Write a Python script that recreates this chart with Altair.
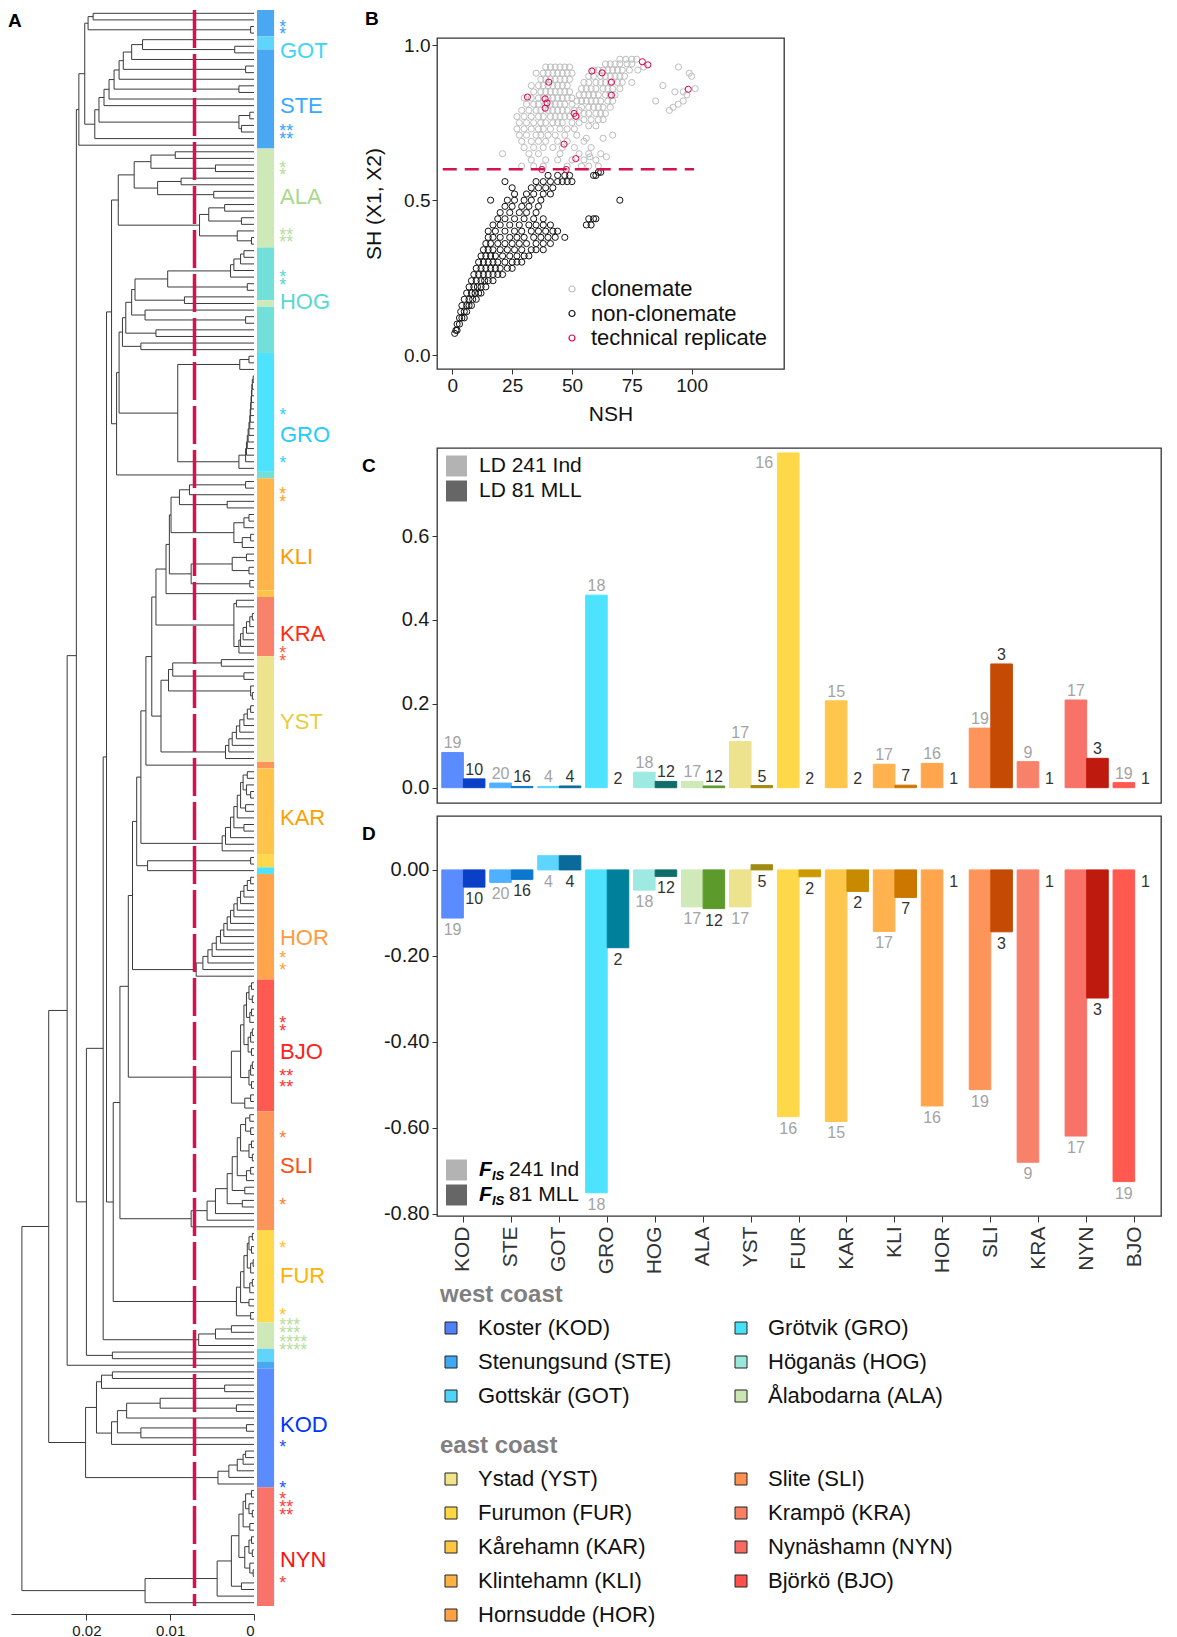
import altair as alt
import pandas as pd

FONT = "Liberation Sans"

# ============================ Panel C / D values ============================
pops = ["KOD", "STE", "GOT", "GRO", "HOG", "ALA", "YST", "FUR", "KAR", "KLI", "HOR", "SLI", "KRA", "NYN", "BJO"]
ld_ind = [0.084, 0.011, 0.003, 0.459, 0.037, 0.015, 0.110, 0.798, 0.207, 0.056, 0.058, 0.142, 0.062, 0.209, 0.012]
ld_mll = [0.021, 0.003, 0.004, None, 0.015, 0.004, 0.005, None, None, 0.006, None, 0.295, None, 0.070, None]
fis_ind = [-0.112, -0.029, 0.033, -0.751, -0.047, -0.086, -0.086, -0.574, -0.585, -0.143, -0.549, -0.511, -0.680, -0.619, -0.725]
fis_mll = [-0.040, -0.022, 0.033, -0.181, -0.015, -0.090, 0.012, -0.016, -0.050, -0.064, None, -0.144, None, -0.298, None]
n_ind = [19, 20, 4, 18, 18, 17, 17, 16, 15, 17, 16, 19, 9, 17, 19]
n_mll = [10, 16, 4, 2, 12, 12, 5, 2, 2, 7, 1, 3, 1, 3, 1]
col_light = ["#5b8cff", "#4fb0ff", "#5dd5ff", "#4de3ff", "#9ee9e1", "#cfe9b9", "#ede28d", "#ffd84a",
             "#ffc64c", "#ffb24d", "#ffa64d", "#fd955a", "#f8816a", "#f87268", "#ff5950"]
col_dark = ["#0a40c8", "#0b78d0", "#0a6a9a", "#00809a", "#0f6f68", "#5d9a2c", "#a08a12", "#cc9a00",
            "#c88a00", "#cc7700", "#cc6a00", "#c54b05", "#c0401a", "#bf1a0e", "#b01010"]
ld_legend = ["LD 241 Ind", "LD 81 MLL"]
fis_legend = ["241 Ind", "81 MLL"]
legend_grays = ["#b3b3b3", "#666666"]

west_c1 = ["Koster (KOD)", "Stenungsund (STE)", "Gottskär (GOT)"]
west_c1_col = ["#4f80f5", "#3ea9f2", "#4fd3f7"]
west_c2 = ["Grötvik (GRO)", "Höganäs (HOG)", "Ålabodarna (ALA)"]
west_c2_col = ["#45e0f8", "#98e8dc", "#cbe6b3"]
east_c1 = ["Ystad (YST)", "Furumon (FUR)", "Kårehamn (KAR)", "Klintehamn (KLI)", "Hornsudde (HOR)"]
east_c1_col = ["#f1e48a", "#ffd744", "#ffc544", "#ffb144", "#ffa144"]
east_c2 = ["Slite (SLI)", "Krampö (KRA)", "Nynäshamn (NYN)", "Björkö (BJO)"]
east_c2_col = ["#ff9150", "#f87f62", "#f86b60", "#ff5049"]

# ============================ Panel B values ============================
clone_rows = [
    (0.955, [70, 72.5, 75, 77]),
    (0.94, [64, 66, 68, 70, 73, 75]),
    (0.93, [39, 41, 43, 45, 47, 49, 80, 94.5]),
    (0.92, [59, 61, 63, 65, 67, 69, 71, 74, 77.5]),
    (0.91, [35, 38, 40, 42, 44, 46, 48, 50, 99]),
    (0.90, [57, 59, 62, 64, 66, 68, 70, 72, 100]),
    (0.89, [37, 39, 41, 43, 45, 47, 49]),
    (0.88, [55, 57, 60, 62, 64, 66, 69, 71, 75]),
    (0.87, [33, 36, 38, 40, 42, 44, 46, 48, 88]),
    (0.86, [54, 56, 58, 60, 63, 65, 67, 70, 101.5]),
    (0.85, [34, 37, 39, 41, 43, 45, 47, 49, 93, 96.5]),
    (0.84, [53, 55, 57, 59, 61, 64, 66, 68, 98]),
    (0.83, [30, 33, 36, 38, 40, 42, 44, 46, 48, 50]),
    (0.82, [52, 54, 56, 58, 60, 62, 65, 67, 85, 96.5]),
    (0.81, [31, 34, 36, 39, 41, 43, 45, 47, 50, 94.4]),
    (0.80, [54, 57, 59, 61, 63, 66, 92.3]),
    (0.79, [29, 32, 35, 37, 40, 42, 44, 46, 48, 51, 53, 90.7]),
    (0.78, [55, 57, 60, 62, 64]),
    (0.77, [27, 30, 33, 36, 38, 41, 43, 45, 47, 49, 52]),
    (0.76, [55, 58, 61, 63]),
    (0.75, [28, 31, 34, 37, 39, 42, 44, 46, 50, 53]),
    (0.74, [57, 60]),
    (0.73, [27, 30, 33, 36, 38, 41, 45, 48, 51]),
    (0.71, [28, 31, 35, 37, 40, 43, 47, 52, 67]),
    (0.70, [56, 63]),
    (0.69, [29, 33, 36, 39, 44, 48, 55]),
    (0.67, [30, 34, 38, 42, 46, 51, 58]),
    (0.65, [21, 32, 36, 45, 53, 57, 62]),
    (0.64, [57.5, 64.4]),
    (0.63, [33, 39, 44, 50, 55, 60]),
    (0.61, [29, 34, 38, 48, 54, 57, 61]),
]
nonclone_rows = [
    (0.07, [1]),
    (0.08, [1.5, 2]),
    (0.10, [2, 3]),
    (0.12, [3, 4, 5]),
    (0.14, [3.5, 5, 6]),
    (0.16, [4, 6, 7, 8]),
    (0.18, [5, 7, 8.5, 10]),
    (0.20, [6, 8, 9.5, 11, 12]),
    (0.22, [7, 9, 10.5, 12, 14]),
    (0.24, [8, 10, 12, 13.5, 15, 17]),
    (0.26, [9, 11, 13, 15, 17, 19, 21]),
    (0.28, [10, 12, 14, 16, 18, 20, 23, 25]),
    (0.30, [11, 13, 15, 17, 19, 22, 25, 27, 29]),
    (0.32, [12, 14, 16, 18, 21, 24, 27, 30, 32]),
    (0.34, [13, 15, 17, 20, 23, 26, 29, 33, 35, 38]),
    (0.36, [14, 16, 19, 22, 25, 28, 31, 35, 38, 41]),
    (0.38, [15, 17, 20, 24, 27, 30, 34, 37, 40, 43, 47]),
    (0.40, [15, 18, 22, 26, 29, 33, 36, 39, 42, 44]),
    (0.42, [17, 20, 24, 28, 32, 35, 38, 41, 56, 58]),
    (0.44, [19, 22, 26, 30, 34, 38, 57, 59, 60]),
    (0.46, [20, 24, 28, 31, 35]),
    (0.48, [22, 25, 29, 32, 36]),
    (0.50, [16, 23, 26, 30, 33, 37, 70]),
    (0.52, [26, 31, 34, 38, 41]),
    (0.54, [25, 33, 36, 39, 42]),
    (0.56, [22, 35, 38, 41, 44, 46, 48, 50]),
    (0.58, [40, 44, 47, 49, 59, 60]),
    (0.59, [61, 62]),
]
rep_x = [31.4, 40.3, 38.8, 39.6, 38.8, 50.9, 51.6, 58.3, 62.6, 66.5, 66.5, 79.4, 81.7, 98.6, 46.7, 51.6, 37.4, 47.6]
rep_y = [0.833, 0.881, 0.827, 0.814, 0.797, 0.780, 0.771, 0.917, 0.911, 0.881, 0.839, 0.947, 0.937, 0.858, 0.681, 0.634, 0.599, 0.599]
b_cats = ["clonemate", "non-clonemate", "technical replicate"]
b_cols = ["#bdbdbd", "#111111", "#e0004d"]
sh_threshold = 0.6
threshold_span = [-4, 101]

# ============================ Panel A values ============================
# dendrogram written as a Newick-like tree; merge heights in units of 0.001
def j(a, b, h):
    return f"({a},{b}){h}"


def p(x, h):
    return f"({x},{x}){h}"


def cat(base, steps):
    t = base
    for sub, h in steps:
        t = j(t, sub, h)
    return t


A1 = j(p("S", 19.2), p("S", 0.4), 19.8)
B1 = cat(j("G", "(G,S)2.3", 13.3), [("S", 14.6), (p("S", 1.0), 15.6), ("S", 16.1), (p("S", 1.8), 16.7), ("S", 17.3),
                                    ("S", 17.9), (j(p("S", 0.5), p("S", 1.5), 1.8), 18.5), ("S", 19.0)])
T1 = cat(A1, [(B1, 20.2), ("S", 20.9)])
ALA = j(j(j(p("A", 9.4), p("A", 4.6), 12.3), j(p("A", 8.7), p("A", 4.8), 11.5), 14.3),
        j(j(p("A", 3.5), p("A", 1.5), 5.4), j("A", p("A", 0.3), 2.0), 6.5), 16.2)
H1 = j(j(cat(p("H", 1.2), [("H", 1.6), ("H", 2.4), ("H", 2.8)]), p("H", 0.8), 10.3), "(H,A)8.3", 14.2)
HOG = cat(H1, [(j("H", p("H", 1.0), 13.0), 14.6), (p("H", 11.7), 15.3), (p("H", 13.5), 15.7)])
G1 = j(p("R", 0.6), "R", 1.7)
G2 = cat(p("R", 0.1), [("R", 0.2), ("R", 0.25), ("R", 0.3), ("R", 0.35), ("R", 0.4), ("R", 0.45), ("R", 0.5),
                       ("R", 0.6), ("R", 0.7), ("R", 0.8), ("R", 0.9), ("R", 1.0), ("R", 1.8)])
GRO = j(G1, G2, 9.1)
WEST = j(ALA, j(j(HOG, GRO, 16.1), "H", 16.4), 17.0)
KLI = j(j(j(j(p("L", 1.0), "L", 7.7), p("L", 3.2), 8.9),
          j(j(p("L", 0.6), "L", 1.2), j(p("L", 0.4), "L", 1.4), 2.4), 9.9),
        j(j(p("L", 0.9), p("L", 0.6), 2.6), p("L", 0.5), 7.5), 10.1)
KLIg = j(KLI, "C", 10.5)
KRA = j(p("M", 2.1), cat(p("M", 0.2), [("M", 0.5), ("M", 0.9), ("M", 1.3), ("M", 1.6), ("M", 1.8)]), 2.4)
YST = j(j(j(p("Y", 3.9), p("Y", 1.2), 9.7), j("Y", p("Y", 0.2), 0.4), 10.2),
        cat(p("Y", 0.4), [("Y", 0.8), ("Y", 1.2), ("Y", 1.7), ("Y", 2.1), ("Y", 2.6), ("Y", 3.0), ("Y", 3.4)]), 11.1)
KAR = j(cat(j(p("C", 0.8), j("C", p("C", 0.4), 0.9), 1.3),
            [(p("C", 1.0), 1.6), ("C", 2.0), (p("C", 1.2), 2.4), ("C", 2.8), ("C", 3.4)]), "C", 3.8)
FFR = j(p("F", 0.4), "R", 12.7)
HOR = cat(p("O", 0.4), [("O", 0.8), ("O", 1.2), ("O", 1.6), ("O", 2.0), ("O", 2.4), ("O", 2.8), ("O", 3.2),
                        ("O", 3.6), ("O", 4.0), ("O", 4.5), ("O", 5.0), ("O", 5.5), ("O", 6.1), ("O", 6.9)])
BJO = cat(j(j(p("B", 0.3), p("B", 0.2), 0.6), j(p("B", 0.3), "B", 0.5), 0.9),
          [(j(j(p("B", 0.2), "B", 0.4), p("B", 0.3), 0.7), 1.2),
           (j(j(p("B", 0.2), "B", 0.4), p("B", 0.3), 0.6), 1.6),
           (j(p("B", 0.4), "B", 1.1), 2.7)])
SLI = cat(j(j(p("I", 0.5), p("I", 0.4), 1.0), j(p("I", 0.3), p("I", 0.2), 0.6), 1.6),
          [(j(p("I", 0.4), "I", 0.9), 2.0), (p("I", 1.1), 2.6), (p("I", 1.4), 3.2), ("I", 4.6), ("I", 5.6), ("I", 7.5)])
FUR = j(cat(j(j(p("F", 0.2), p("F", 0.3), 0.6), j(p("F", 0.1), "F", 0.4), 0.8),
            [(j(p("F", 0.2), "F", 0.5), 1.2), (p("F", 0.6), 1.6)]), p("F", 0.4), 2.1)
EAST = cat(KLIg, [(KRA, 11.7), (YST, 12.2), ("I", 12.9), (KAR, 13.5), (FFR, 14.0), (HOR, 14.5),
                  (BJO, 15.0), (SLI, 16.0), (FUR, 16.8)])
X4 = j(j(j(WEST, EAST, 17.6), cat(p("A", 2.7), [("A", 4.6), ("A", 6.6)]), 18.0), p("G", 16.9), 20.0)
X2 = j(j(T1, X4, 21.2), "S", 22.3)
KODa = j(j(p("K", 16.9), p("K", 3.5), 18.2),
         j(j(j(j("K", p("K", 2.1), 11.2), "K", 15.2), j(p("K", 0.9), "K", 13.5), 16.3), "K", 17.0), 18.8)
KODb = cat(p("K", 1.0), [("K", 1.3), ("K", 2.0), ("K", 3.0), ("K", 4.3)])
NYc = j(j(j(p("N", 0.3), j("N", p("N", 0.2), 0.6), 1.0), p("N", 0.5), 1.3),
        j(j(p("N", 0.3), p("N", 0.2), 0.6), j("N", p("N", 0.1), 0.5), 1.1), 1.8)
NYN = j(j(j(NYc, p("N", 1.5), 2.7), "N", 4.4), "N", 13.0)
TREE = j(j(X2, j(KODa, KODb, 20.1), 24.5), NYN, 27.7)

leaf_code = {"K": "KOD", "S": "STE", "G": "GOT", "R": "GRO", "H": "HOG", "A": "ALA", "Y": "YST", "F": "FUR",
             "C": "KAR", "L": "KLI", "O": "HOR", "I": "SLI", "M": "KRA", "N": "NYN", "B": "BJO"}
strip_col = {"KOD": "#5a8cff", "STE": "#4aa8f2", "GOT": "#5fd5fb", "GRO": "#4de2fe", "HOG": "#72e0d8",
             "ALA": "#cfe8b8", "YST": "#ede38e", "FUR": "#ffd84b", "KAR": "#ffc44a", "KLI": "#ffb54a",
             "HOR": "#ffa64c", "SLI": "#fd955a", "KRA": "#f8826a", "NYN": "#f8736a", "BJO": "#ff5a52"}
cut_height = 0.0071
# population labels: (name, vertical position as fraction of the tip column, colour)
tree_labels = [("GOT", 0.0257, "#3dd3ff"), ("STE", 0.0601, "#3aa8ff"), ("ALA", 0.1172, "#a8d88c"),
               ("HOG", 0.1830, "#5ad8d0"), ("GRO", 0.2663, "#22ccff"), ("KLI", 0.3427, "#ff9900"),
               ("KRA", 0.3910, "#ff2a10"), ("YST", 0.4461, "#e8cc3a"), ("KAR", 0.5063, "#ffa000"),
               ("HOR", 0.5815, "#ff9a40"), ("BJO", 0.6529, "#ff2020"), ("SLI", 0.7243, "#ff4d10"),
               ("FUR", 0.7932, "#ffb300"), ("KOD", 0.8866, "#0033ff"), ("NYN", 0.9712, "#ff1010")]
asterisks = [(0.0086, "*", "#3aa0ff"), (0.0131, "*", "#3aa0ff"), (0.0739, "**", "#3aa0ff"), (0.0789, "**", "#3aa0ff"),
             (0.0974, "*", "#b6dd9c"), (0.1018, "*", "#b6dd9c"), (0.1388, "**", "#b6dd9c"), (0.1437, "**", "#b6dd9c"),
             (0.1654, "*", "#50d8d0"), (0.1704, "*", "#50d8d0"), (0.2519, "*", "#2fd0ff"), (0.2820, "*", "#2fd0ff"),
             (0.3011, "*", "#ffa31a"), (0.3064, "*", "#ffa31a"), (0.4010, "*", "#ff5a3c"), (0.4060, "*", "#ff5a3c"),
             (0.5924, "*", "#ffa040"), (0.5996, "*", "#ffa040"), (0.6328, "*", "#ff3030"), (0.6378, "*", "#ff3030"),
             (0.6660, "**", "#ff3030"), (0.6729, "**", "#ff3030"), (0.7049, "*", "#ff7a30"), (0.7469, "*", "#ff7a30"),
             (0.7738, "*", "#ffc21a"), (0.8158, "*", "#ffc21a"), (0.8221, "***", "#b6dd9c"), (0.8271, "***", "#b6dd9c"),
             (0.8327, "****", "#b6dd9c"), (0.8378, "****", "#b6dd9c"), (0.8985, "*", "#2050ff"), (0.9242, "*", "#2050ff"),
             (0.9311, "*", "#ff3a3a"), (0.9361, "**", "#ff3a3a"), (0.9411, "**", "#ff3a3a"), (0.9837, "*", "#ff3a3a")]


# ---------------------------- tree layout ----------------------------
def parse_tree(s):
    pos = [0]

    def node():
        if s[pos[0]] == "(":
            pos[0] += 1
            ch = [node()]
            while s[pos[0]] == ",":
                pos[0] += 1
                ch.append(node())
            pos[0] += 1  # ')'
            st = pos[0]
            while pos[0] < len(s) and (s[pos[0]].isdigit() or s[pos[0]] == "."):
                pos[0] += 1
            return {"h": float(s[st:pos[0]]) * 1e-3, "ch": ch}
        lab = s[pos[0]]
        pos[0] += 1
        return {"h": 0.0, "lab": lab}

    return node()


root = parse_tree(TREE)
leaves = []


def collect(n):
    if "lab" in n:
        leaves.append(n)
    else:
        for c in n["ch"]:
            collect(c)


collect(root)
NL = len(leaves)
for i, lf in enumerate(leaves):
    lf["y"] = (i + 0.5) / NL


def set_y(n):
    if "lab" in n:
        return n["y"]
    ys = [set_y(c) for c in n["ch"]]
    n["y"] = (ys[0] + ys[-1]) / 2
    return n["y"]


set_y(root)
segs = []


def walk(n):
    if "lab" in n:
        return
    ys = [c["y"] for c in n["ch"]]
    segs.append({"x": n["h"], "x2": n["h"], "y": min(ys), "y2": max(ys)})
    for c in n["ch"]:
        segs.append({"x": n["h"], "x2": c["h"], "y": c["y"], "y2": c["y"]})
        walk(c)


walk(root)
seg_df = pd.DataFrame(segs)
runs = []
for i, lf in enumerate(leaves):
    code = leaf_code[lf["lab"]]
    if runs and runs[-1]["pop"] == code:
        runs[-1]["u2"] = (i + 1) / NL
    else:
        runs.append({"pop": code, "u1": i / NL, "u2": (i + 1) / NL, "col": strip_col[code]})
strip_df = pd.DataFrame(runs)
lab_df = pd.DataFrame(tree_labels, columns=["lab", "u", "col"])
ast_df = pd.DataFrame(asterisks, columns=["u", "t", "col"])


# ---------------------------- helpers ----------------------------
def deco(txt, x, y, size=19, weight="bold", style="normal", color="#000000", align="left"):
    return alt.Chart(pd.DataFrame({"t": [txt]})).mark_text(
        font=FONT, fontSize=size, fontWeight=weight, fontStyle=style, color=color, align=align, baseline="middle"
    ).encode(text="t:N", x=alt.value(x), y=alt.value(y))


def deco_square(x, y, color, size=441):
    return alt.Chart(pd.DataFrame({"k": [0]})).mark_square(size=size, color=color, filled=True, opacity=1).encode(
        x=alt.value(x), y=alt.value(y))


# ============================ Panel A chart ============================
xa = alt.Scale(domain=[0, 0.029], reverse=True, nice=False, zero=False)
ya = alt.Scale(domain=[0.017544, 1.005013], reverse=True, nice=False, zero=False)
axis_a = alt.Axis(values=[0, 0.01, 0.02], labelExpr="datum.value == 0 ? '0' : format(datum.value, '.2f')",
                  title=None, domain=True, domainColor="#333333", tickSize=6, labelFontSize=15, grid=False,
                  labelPadding=3)
tree_lines = alt.Chart(seg_df).mark_rule(color="#3a3a3a", strokeWidth=1).encode(
    x=alt.X("x:Q", scale=xa, axis=axis_a), x2="x2:Q",
    y=alt.Y("y:Q", scale=ya, axis=None), y2="y2:Q")
strip = alt.Chart(strip_df).mark_rect().encode(
    x=alt.datum(-0.00036), x2=alt.datum(-0.0024), y="u1:Q", y2="u2:Q", color=alt.Color("col:N", scale=None))
cut_line = alt.Chart(pd.DataFrame({"cut": [cut_height]})).mark_rule(
    color="#d4124e", strokeWidth=3.5, strokeDash=[38, 6]).encode(x="cut:Q", y=alt.datum(0), y2=alt.datum(1))
tree_text = alt.Chart(lab_df).mark_text(font=FONT, fontSize=22, align="left", baseline="middle").encode(
    x=alt.datum(-0.0031), y="u:Q", text="lab:N", color=alt.Color("col:N", scale=None))
ast_text = alt.Chart(ast_df).mark_text(font=FONT, fontSize=18, align="left", baseline="middle", dy=4).encode(
    x=alt.datum(-0.003), y="u:Q", text="t:N", color=alt.Color("col:N", scale=None))
panel_a = alt.layer(tree_lines, cut_line, strip, tree_text, ast_text, deco("A", -3, -17)).properties(
    width=243, height=1576, view=alt.ViewBackground(strokeOpacity=0))

# ============================ Panel B chart ============================
b_rows = []
for y, xs in clone_rows:
    for x in xs:
        b_rows.append({"nsh": x, "sh": y, "cat": "clonemate"})
for y, xs in nonclone_rows:
    for x in xs:
        b_rows.append({"nsh": x, "sh": y, "cat": "non-clonemate"})
for x, y in zip(rep_x, rep_y):
    b_rows.append({"nsh": x, "sh": y, "cat": "technical replicate"})
b_df = pd.DataFrame(b_rows)
xb = alt.Scale(domain=[-6.4, 138.6], nice=False, zero=False)
yb = alt.Scale(domain=[-0.045, 1.0236], nice=False, zero=False)
b_points = alt.Chart(b_df).mark_point(filled=False, size=38, strokeWidth=1, opacity=1).encode(
    x=alt.X("nsh:Q", scale=xb, axis=alt.Axis(values=[0, 25, 50, 75, 100], title="NSH", titlePadding=8)),
    y=alt.Y("sh:Q", scale=yb, axis=alt.Axis(values=[0, 0.5, 1.0], format=".1f", title="SH (X1, X2)", titlePadding=19)),
    color=alt.Color("cat:N", title=None, scale=alt.Scale(domain=b_cats, range=b_cols),
                    legend=alt.Legend(orient="none", legendX=124, legendY=240, symbolType="circle", symbolSize=36,
                                      symbolStrokeWidth=1.2, symbolOpacity=1, labelFontSize=22, labelOffset=8,
                                      rowPadding=2.5, padding=0, labelLimit=0, labelColor="#111111")))
b_line = alt.Chart(pd.DataFrame({"x": [threshold_span[0]], "x2": [threshold_span[1]], "y": [sh_threshold]})).mark_rule(
    color="#d4124e", strokeWidth=2.5, strokeDash=[14, 8]).encode(x=alt.X("x:Q", scale=xb), x2="x2:Q",
                                                                 y=alt.Y("y:Q", scale=yb))
panel_b = alt.layer(b_points, b_line, deco("B", -72, -19)).properties(width=347, height=331)

# ============================ Panels C and D ============================
cd_rows = []
for i, pop in enumerate(pops):
    for kind, ld, fis, n, col, tcol in (
            ("ind", ld_ind[i], fis_ind[i], n_ind[i], col_light[i], "#a3a3a3"),
            ("mll", ld_mll[i], fis_mll[i], n_mll[i], col_dark[i], "#333333")):
        cd_rows.append({"pop": pop, "kind": kind, "ld": ld, "fis": fis, "n": str(n), "col": col, "tcol": tcol,
                        "ld_lab": max(ld, 0) if ld is not None else 0.0,
                        "fis_lab": min(fis, 0) if fis is not None else 0.0})
cd = pd.DataFrame(cd_rows)
x_band = alt.Scale(domain=pops, paddingInner=0.1, paddingOuter=0.1)
xoff = alt.XOffset("kind:N", scale=alt.Scale(domain=["ind", "mll"], paddingInner=0, paddingOuter=0))
x_axis_d = alt.Axis(labelAngle=270, labelFontSize=21, labelColor="#333333", tickSize=6, labelPadding=4,
                    title=None, domain=False)

yc = alt.Scale(domain=[-0.0365, 0.8098], nice=False, zero=False)
axis_c = alt.Axis(values=[0, 0.2, 0.4, 0.6], format=".1f", title=None, labelFontSize=20, tickSize=5, labelPadding=3)
c_bars = alt.Chart(cd).mark_bar(strokeWidth=1).encode(
    x=alt.X("pop:N", scale=x_band, axis=None), xOffset=xoff,
    y=alt.Y("ld:Q", scale=yc, axis=axis_c),
    color=alt.Color("col:N", scale=None), stroke=alt.Stroke("col:N", scale=None))
# the label of the tallest bar sits beside it, as in the reference
c_text = alt.Chart(cd).transform_filter("datum.ld_lab < 0.75").mark_text(
    font=FONT, fontSize=16, baseline="alphabetic", dy=-4).encode(
    x=alt.X("pop:N", scale=x_band, axis=None), xOffset=xoff,
    y=alt.Y("ld_lab:Q", scale=yc, axis=axis_c), text="n:N", color=alt.Color("tcol:N", scale=None))
c_text_top = alt.Chart(cd).transform_filter("datum.ld_lab >= 0.75").mark_text(
    font=FONT, fontSize=16, baseline="middle", dx=-24, dy=10).encode(
    x=alt.X("pop:N", scale=x_band, axis=None), xOffset=xoff,
    y=alt.Y("ld_lab:Q", scale=yc, axis=axis_c), text="n:N", color=alt.Color("tcol:N", scale=None))
c_leg = alt.Chart(pd.DataFrame({"lab": ld_legend})).transform_filter("false").mark_square(filled=True).encode(
    fill=alt.Fill("lab:N", title=None, scale=alt.Scale(domain=ld_legend, range=legend_grays),
                  legend=alt.Legend(orient="none", legendX=9, legendY=7.5, symbolType="square", symbolSize=441,
                                    symbolStrokeWidth=0, symbolOpacity=1, labelFontSize=21, labelOffset=12,
                                    rowPadding=3, padding=0, labelLimit=0, labelColor="#111111")))
panel_c = alt.layer(c_bars, c_text, c_text_top, c_leg, deco("C", -75, 18)).properties(width=724, height=355)

yd = alt.Scale(domain=[-0.805, 0.1254], nice=False, zero=False)
axis_d = alt.Axis(values=[0, -0.2, -0.4, -0.6, -0.8], title=None, labelFontSize=20, tickSize=5, labelPadding=3,
                  labelExpr="(datum.value < 0 ? '-' : '') + format(abs(datum.value), '.2f')")
d_bars = alt.Chart(cd).mark_bar(strokeWidth=1).encode(
    x=alt.X("pop:N", scale=x_band, axis=x_axis_d), xOffset=xoff,
    y=alt.Y("fis:Q", scale=yd, axis=axis_d),
    color=alt.Color("col:N", scale=None), stroke=alt.Stroke("col:N", scale=None))
d_text = alt.Chart(cd).mark_text(font=FONT, fontSize=16, baseline="top", dy=4).encode(
    x=alt.X("pop:N", scale=x_band, axis=x_axis_d), xOffset=xoff,
    y=alt.Y("fis_lab:Q", scale=yd, axis=axis_d), text="n:N", color=alt.Color("tcol:N", scale=None))


def pop_legend(names, colors, lx, ly, title):
    leg = alt.Legend(orient="none", legendX=lx, legendY=ly, symbolType="square", symbolSize=144,
                     symbolStrokeColor="#222222", symbolStrokeWidth=1, symbolOpacity=1, labelFontSize=22,
                     labelOffset=16, rowPadding=12, padding=0, labelLimit=0, labelColor="#111111",
                     titleFontSize=24, titleFontWeight="bold", titleColor="#808080", titlePadding=10)
    if title:
        fill = alt.Fill("name:N", title=title, scale=alt.Scale(domain=names, range=colors), legend=leg)
    else:
        fill = alt.Fill("name:N", title=None, scale=alt.Scale(domain=names, range=colors), legend=leg)
    return alt.Chart(pd.DataFrame({"name": names})).transform_filter("false").mark_square(filled=True).encode(
        fill=fill)


d_layers = [d_bars, d_text,
            pop_legend(west_c1, west_c1_col, 3, 467, "west coast"),
            pop_legend(west_c2, west_c2_col, 293, 501, None),
            pop_legend(east_c1, east_c1_col, 3, 618, "east coast"),
            pop_legend(east_c2, east_c2_col, 293, 652, None),
            deco("D", -75, 18)]
for k, (lab, gray) in enumerate(zip(fis_legend, legend_grays)):
    yy = 354 + 25 * k
    d_layers += [deco_square(19.5, yy, gray),
                 deco("F", 42, yy, size=21, style="italic"),
                 deco("IS", 55, yy + 6, size=13, style="italic"),
                 deco(lab, 72, yy, size=21, weight="normal", color="#111111")]
panel_d = alt.layer(*d_layers).resolve_scale(fill="independent").properties(width=724, height=400)

cd_col = alt.vconcat(panel_c, panel_d, spacing=13, bounds="flush").resolve_scale(
    fill="independent", color="independent")
right = alt.vconcat(panel_b, cd_col, spacing=79, bounds="flush").resolve_scale(
    fill="independent", color="independent")
chart = alt.hconcat(panel_a, right, spacing=183, bounds="flush").resolve_scale(
    fill="independent", color="independent").properties(
    padding={"left": 0, "top": 0, "right": 0, "bottom": 0}
).configure(font=FONT).configure_axis(
    labelFont=FONT, titleFont=FONT, labelFontSize=19, labelColor="#1a1a1a", titleFontSize=21,
    titleFontWeight="normal", titleColor="#111111", tickColor="#333333", tickSize=5, domain=False, grid=False
).configure_legend(labelFont=FONT, titleFont=FONT).configure_view(stroke="#333333", strokeWidth=1.3)

chart.save("out.html", embed_options={"renderer": "svg", "actions": False})
